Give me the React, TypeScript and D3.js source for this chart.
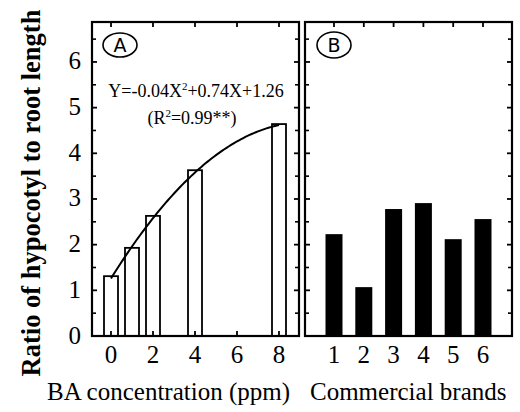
import React from "react";
import * as d3 from "d3";

const baDoses = [0, 1, 2, 4, 8];
const baRatios = [1.31, 1.93, 2.63, 3.63, 4.64];
const baTicks = [0, 2, 4, 6, 8];
const brands = [1, 2, 3, 4, 5, 6];
const brandRatios = [2.23, 1.07, 2.78, 2.91, 2.12, 2.56];
const yTicks = [0, 1, 2, 3, 4, 5, 6];
const yMinorTicks = [0.5, 1.5, 2.5, 3.5, 4.5, 5.5, 6.5];
const fitCoef = { a: -0.04, b: 0.74, c: 1.26 };
const equationText = "Y=-0.04X";
const equationRest = "+0.74X+1.26";
const r2Text = "0.99**)";

const W = 520;
const H = 412;
const top = 22;
const bottom = 336;
const axA = { left: 92, right: 299 };
const axB = { left: 305, right: 512 };
const serif = "Liberation Serif, Times New Roman, DejaVu Serif, serif";
const sans = "DejaVu Sans, sans-serif";

export default function App() {
  const y = d3.scaleLinear().domain([0, 6.875]).range([bottom, top]);
  const xA = d3.scaleLinear().domain([0, 8]).range([111, 279]);
  const xB = d3.scaleLinear().domain([1, 6]).range([334, 483]);

  const curvePts = d3.range(0, 8.001, 0.1).map((v) => [v, fitCoef.a * v * v + fitCoef.b * v + fitCoef.c]);
  const line = d3
    .line<number[]>()
    .x((d) => xA(d[0]))
    .y((d) => y(d[1]));

  const tickLen = 5;
  const minorLen = 4;
  const tf = { fontFamily: serif };

  const yAxisTicks = (x: number, dir: number, key: string) => (
    <g key={key}>
      {yTicks.map((t) => (
        <line key={"M" + t} x1={x} x2={x + dir * tickLen} y1={y(t)} y2={y(t)} stroke="#000" strokeWidth={1.8} />
      ))}
      {yMinorTicks.map((t) => (
        <line key={"m" + t} x1={x} x2={x + dir * minorLen} y1={y(t)} y2={y(t)} stroke="#000" strokeWidth={1.6} />
      ))}
    </g>
  );

  return (
    <svg width={W} height={H} style={{ position: "absolute", left: 0, top: 0, background: "#fff" }}>
      <rect x={0} y={0} width={W} height={H} fill="#fff" />
      {/* Y axis title */}
      <text
        transform={`translate(40, ${(8 + 378) / 2}) rotate(-90)`}
        textAnchor="middle"
        fontWeight="bold"
        fontSize={26.5}
        style={tf}
      >
        Ratio of hypocotyl to root length
      </text>
      {/* Y tick labels */}
      {yTicks.map((t) => (
        <text key={t} x={81} y={y(t) - 1} textAnchor="end" dominantBaseline="central" fontSize={25} style={tf}>
          {t}
        </text>
      ))}

      {/* Panel A */}
      <g>
        {baDoses.map((d, i) => (
          <rect
            key={d}
            x={xA(d) - 7}
            y={y(baRatios[i])}
            width={14}
            height={bottom - y(baRatios[i])}
            fill="#fff"
            stroke="#000"
            strokeWidth={1.8}
          />
        ))}
        <path d={line(curvePts) || ""} fill="none" stroke="#000" strokeWidth={2} />
        {yAxisTicks(axA.left, 1, "al")}
        {yAxisTicks(axA.right, -1, "ar")}
        {baTicks.map((t) => (
          <g key={t}>
            <line x1={xA(t)} x2={xA(t)} y1={top} y2={top + tickLen} stroke="#000" strokeWidth={1.8} />
            <line x1={xA(t)} x2={xA(t)} y1={bottom} y2={bottom - tickLen} stroke="#000" strokeWidth={1.8} />
            <text x={xA(t)} y={363} textAnchor="middle" fontSize={25} style={tf}>
              {t}
            </text>
          </g>
        ))}
        <rect x={axA.left} y={top} width={axA.right - axA.left} height={bottom - top} fill="none" stroke="#000" strokeWidth={2.2} />
        <ellipse cx={120} cy={45} rx={17} ry={12} fill="none" stroke="#000" strokeWidth={1.6} />
        <text x={120} y={52} textAnchor="middle" fontSize={19} style={{ fontFamily: sans }}>
          A
        </text>
        <text x={196} y={97} textAnchor="middle" fontSize={18} style={tf}>
          {equationText}
          <tspan fontSize={11} dy={-7}>2</tspan>
          <tspan dy={7}>{equationRest}</tspan>
        </text>
        <text x={192} y={124} textAnchor="middle" fontSize={18} style={tf}>
          (R
          <tspan fontSize={11} dy={-7}>2</tspan>
          <tspan dy={7}>{"=" + r2Text}</tspan>
        </text>
      </g>

      {/* Panel B */}
      <g>
        {brands.map((b, i) => (
          <rect
            key={b}
            x={xB(b) - 8.5}
            y={y(brandRatios[i])}
            width={17}
            height={bottom - y(brandRatios[i])}
            fill="#000"
          />
        ))}
        {yAxisTicks(axB.left, 1, "bl")}
        {yAxisTicks(axB.right, -1, "br")}
        {brands.map((t) => (
          <g key={t}>
            <line x1={xB(t)} x2={xB(t)} y1={top} y2={top + tickLen} stroke="#000" strokeWidth={1.8} />
            <line x1={xB(t)} x2={xB(t)} y1={bottom} y2={bottom - tickLen} stroke="#000" strokeWidth={1.8} />
            <text x={xB(t)} y={363} textAnchor="middle" fontSize={25} style={tf}>
              {t}
            </text>
          </g>
        ))}
        <rect x={axB.left} y={top} width={axB.right - axB.left} height={bottom - top} fill="none" stroke="#000" strokeWidth={2.2} />
        <ellipse cx={334} cy={45} rx={17} ry={13} fill="none" stroke="#000" strokeWidth={1.6} />
        <text x={334} y={52} textAnchor="middle" fontSize={19} style={{ fontFamily: sans }}>
          B
        </text>
      </g>

      {/* X axis titles */}
      <text x={47} y={400} fontSize={25} style={tf}>
        BA concentration (ppm)
      </text>
      <text x={310} y={400} fontSize={25} style={tf}>
        Commercial brands
      </text>
    </svg>
  );
}
